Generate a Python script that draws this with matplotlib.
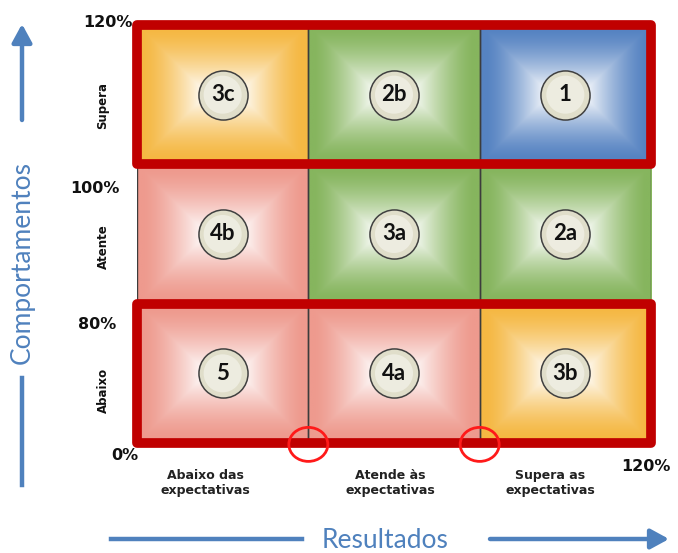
import numpy as np
import matplotlib
matplotlib.use("Agg")
import matplotlib.pyplot as plt
from matplotlib.patches import Rectangle, Ellipse

# --- datos ---
linhas = ["Supera", "Atente", "Abaixo"]              # de cima para baixo
colunas = ["Abaixo das\nexpectativas", "Atende às\nexpectativas", "Supera as\nexpectativas"]
rotulos = [["3c", "2b", "1"],
           ["4b", "3a", "2a"],
           ["5", "4a", "3b"]]
cores_celula = [["laranja", "verde", "azul"],
                ["vermelho", "verde", "verde"],
                ["vermelho", "vermelho", "laranja"]]
ticks_y = ["0%", "80%", "100%", "120%"]
linhas_destacadas = [0, 2]       # linhas com moldura vermelha (indice de cima)
pontos_circulo = [1, 2]          # divisões marcadas com circulo vermelho no eixo x

paleta = {"laranja": "#F5B843", "verde": "#86B55E",
          "azul": "#5683C2", "vermelho": "#EE9A8E"}
azul_titulo = "#4F81BD"

W, H = 678, 553
fig = plt.figure(figsize=(W / 100, H / 100), dpi=100)

# area da matriz em pixels
x0, x1, ytop, ybot = 137, 651, 25, 443
ax = fig.add_axes([x0 / W, 1 - ybot / H, (x1 - x0) / W, (ybot - ytop) / H])
ax.set_xlim(0, 3)
ax.set_ylim(0, 3)
ax.axis("off")

cw = (x1 - x0) / 3
ch = (ybot - ytop) / 3
nx, ny = int(round(cw)), int(round(ch))
xx, yy = np.meshgrid(np.arange(nx) + 0.5, np.arange(ny) + 0.5)
d = np.minimum(np.minimum(xx, nx - xx), np.minimum(yy, ny - yy))
t = np.clip((d - 6) / 62, 0, 1) ** 1.4   # 0 na borda, 1 no centro


def gradiente(hexcor):
    c = np.array(matplotlib.colors.to_rgb(hexcor))
    return c[None, None, :] * (1 - t[..., None]) + t[..., None]


for i, linha in enumerate(rotulos):
    r = 2 - i
    for j, rot in enumerate(linha):
        ax.imshow(gradiente(paleta[cores_celula[i][j]]), extent=(j, j + 1, r, r + 1),
                  aspect="auto", zorder=1, interpolation="bilinear")
        ax.add_patch(Rectangle((j, r), 1, 1, fill=False, ec="#3c3c3c", lw=1, zorder=2))
        ax.scatter([j + 0.5], [r + 0.5], s=1250, c="#E0DECA", edgecolors="#404040",
                   linewidths=1.1, zorder=3)
        ax.scatter([j + 0.5], [r + 0.5], s=750, c="#F1F0E6", edgecolors="none",
                   alpha=0.8, zorder=3)
        ax.text(j + 0.5, r + 0.5, rot, ha="center", va="center", fontsize=16,
                fontweight="bold", family="Lato", color="#111111", zorder=4)

for i in linhas_destacadas:
    ax.add_patch(Rectangle((0, 2 - i), 3, 1, fill=False, ec="#C00000", lw=7,
                           joinstyle="round", zorder=5, clip_on=False))

for k in pontos_circulo:
    ax.add_patch(Ellipse((k, -0.01), 39 / cw, 34 / ch, fill=False, ec="#FF1A1A",
                         lw=2, zorder=6, clip_on=False))

# rotulos percentuais do eixo y
pos_ticks = [(0.006, -0.093), (-0.123, 0.847), (-0.10, 1.83), (-0.023, 3.02)]
for lab, (tx, ty) in zip(ticks_y, pos_ticks):
    ax.text(tx, ty, lab, ha="right", va="center", fontsize=11.5, fontweight="bold",
            color="#111111", clip_on=False)
ax.text(2.826, -0.172, "120%", ha="left", va="center", fontsize=11.5,
        fontweight="bold", color="#111111", clip_on=False)

# nomes das linhas (rotacionados)
for lab, ty in zip(linhas, [2.42, 1.41, 0.38]):
    ax.text(-0.198, ty, lab, rotation=90, ha="center", va="center", fontsize=8.5,
            fontweight="bold", color="#111111", clip_on=False)

# nomes das colunas
for lab, tx in zip(colunas, [0.397, 1.477, 2.41]):
    ax.text(tx, -0.287, lab, ha="center", va="center", fontsize=9,
            fontweight="bold", color="#222222", linespacing=1.25, clip_on=False)


# titulos e setas em pixels da figura
def fp(x, y):
    return (x / W, 1 - y / H)


fig.text(*fp(22, 262), "Comportamentos", rotation=90, ha="center", va="center",
         fontsize=19, family="Lato", color=azul_titulo)
fig.text(*fp(385, 541), "Resultados", ha="center", va="center",
         fontsize=19, family="Lato", color=azul_titulo)

seta = dict(arrowstyle="-|>,head_length=1.1,head_width=0.6", mutation_scale=10,
            color=azul_titulo, lw=3.2, shrinkA=0, shrinkB=0)
fig.add_artist(matplotlib.patches.FancyArrowPatch(fp(22, 120), fp(22, 24),
               transform=fig.transFigure, **seta))
fig.add_artist(matplotlib.patches.FancyArrowPatch(fp(490, 539), fp(669, 539),
               transform=fig.transFigure, **seta))
fig.add_artist(matplotlib.lines.Line2D([22 / W, 22 / W], [1 - 378 / H, 1 - 485 / H],
               transform=fig.transFigure, color=azul_titulo, lw=3.2))
fig.add_artist(matplotlib.lines.Line2D([111 / W, 302 / W], [1 - 539 / H, 1 - 539 / H],
               transform=fig.transFigure, color=azul_titulo, lw=3.2))

fig.savefig("out.png", dpi=100)
